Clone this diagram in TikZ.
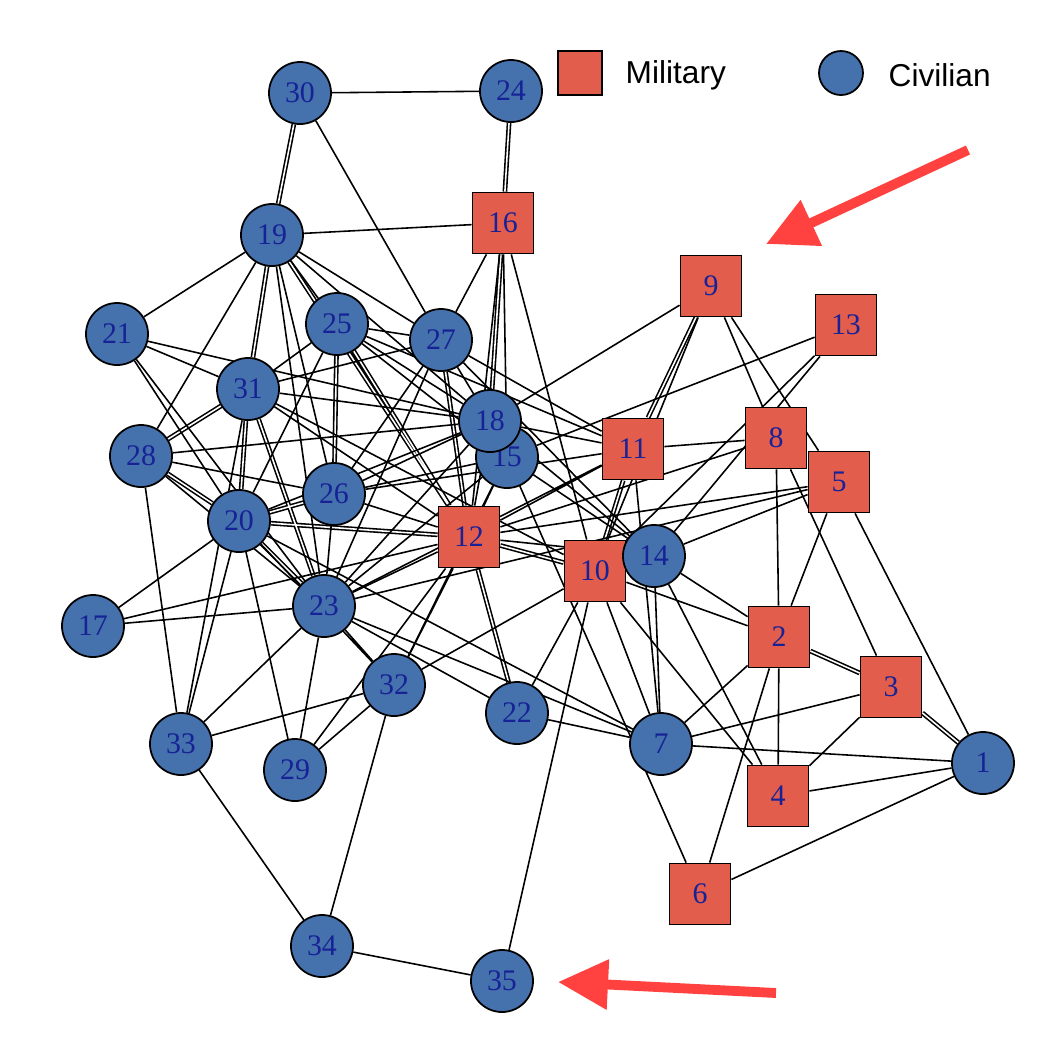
\documentclass[tikz,border=0pt]{standalone}
\usepackage{fontspec}
\setmainfont{Liberation Serif}
\newfontfamily\legfont{Liberation Sans}
\usetikzlibrary{arrows.meta,backgrounds}

\definecolor{rossomil}{RGB}{227,93,77}
\definecolor{bluciv}{RGB}{69,113,172}
\definecolor{blutesto}{RGB}{22,34,150}
\definecolor{rossofreccia}{RGB}{255,66,64}

\tikzset{
  mil/.style={rectangle, draw, line width=0.5pt, fill=rossomil, minimum size=6.1mm,
    inner sep=0pt, text=blutesto, font=\fontsize{8.5}{10}\selectfont},
  civ/.style={circle, draw, line width=0.5pt, fill=bluciv, minimum size=6.2mm,
    inner sep=0pt, text=blutesto, font=\fontsize{8.5}{10}\selectfont},
  arco/.style={line width=0.45pt},
  doppio/.style={line width=0.45pt, double, double distance=0.45pt},
  freccia/.style={draw=rossofreccia, line width=2.8pt, -{Triangle[length=5mm,width=4.8mm]}},
}

\begin{document}
\begin{tikzpicture}[x=0.01cm, y=-0.01cm]
    \useasboundingbox (0,0) rectangle (1050,1044);

    % nodi
    \node[civ] (n1) at (983,763) {1};
    \node[mil] (n2) at (779,637) {2};
    \node[mil] (n3) at (891,687) {3};
    \node[mil] (n4) at (778,796) {4};
    \node[mil] (n5) at (839,482) {5};
    \node[mil] (n6) at (700,894) {6};
    \node[civ] (n7) at (661,744) {7};
    \node[mil] (n8) at (776,438) {8};
    \node[mil] (n9) at (711,286) {9};
    \node[mil] (n10) at (595,571) {10};
    \node[mil] (n11) at (633,449) {11};
    \node[mil] (n12) at (469,537) {12};
    \node[mil] (n13) at (846,325) {13};
    \node[civ] (n14) at (654,556) {14};
    \node[civ] (n15) at (507,457) {15};
    \node[mil] (n16) at (503,223) {16};
    \node[civ] (n17) at (93,626) {17};
    \node[civ] (n18) at (490,421) {18};
    \node[civ] (n19) at (272,235) {19};
    \node[civ] (n20) at (239,521) {20};
    \node[civ] (n21) at (117,334) {21};
    \node[civ] (n22) at (517,713) {22};
    \node[civ] (n23) at (324,606) {23};
    \node[civ] (n24) at (511,91) {24};
    \node[civ] (n25) at (337,324) {25};
    \node[civ] (n26) at (334,494) {26};
    \node[civ] (n27) at (441,340) {27};
    \node[civ] (n28) at (141,456) {28};
    \node[civ] (n29) at (295,770) {29};
    \node[civ] (n30) at (300,93) {30};
    \node[civ] (n31) at (248,389) {31};
    \node[civ] (n32) at (394,685) {32};
    \node[civ] (n33) at (181,744) {33};
    \node[civ] (n34) at (322,946) {34};
    \node[civ] (n35) at (502,981) {35};

    \begin{pgfonlayer}{background}
    % legami multipli
    \draw[doppio] (n30) -- (n19) (n24) -- (n16) (n16) -- (n18) (n19) -- (n31)
        (n19) -- (n12) (n28) -- (n31) (n28) -- (n20) (n31) -- (n20)
        (n31) -- (n23) (n25) -- (n26) (n25) -- (n12) (n27) -- (n12)
        (n9) -- (n11) (n10) -- (n11) (n12) -- (n10) (n2) -- (n3)
        (n3) -- (n1) (n20) -- (n26) (n20) -- (n12) (n20) -- (n23)
        (n12) -- (n22);

    % legami in alto
    \draw[arco] (n30) -- (n24) (n30) -- (n27) (n19) -- (n16) (n16) -- (n27)
        (n16) -- (n12) (n16) -- (n15) (n16) -- (n10);
    \draw[arco] (n19) -- (n21) (n19) -- (n28) (n19) -- (n26) (n19) -- (n25)
        (n19) -- (n18) (n19) -- (n27) (n19) -- (n23);
    \draw[arco] (n21) -- (n18) (n21) -- (n31) (n21) -- (n20) (n21) -- (n23);
    \draw[arco] (n28) -- (n18) (n28) -- (n26) (n28) -- (n23) (n28) -- (n33);
    \draw[arco] (n31) -- (n25) (n31) -- (n27) (n31) -- (n18) (n31) -- (n12)
        (n31) -- (n10) (n31) -- (n33);
    \draw[arco] (n25) -- (n20) (n25) -- (n27) (n25) -- (n18) (n25) -- (n11)
        (n25) -- (n15);
    \draw[arco] (n27) -- (n26) (n27) -- (n23) (n27) -- (n18) (n27) -- (n14)
        (n27) -- (n11);

    % legami al centro
    \draw[arco] (n18) -- (n9) (n18) -- (n12) (n18) -- (n11) (n18) -- (n14)
        (n18) -- (n20) (n18) -- (n23) (n18) -- (n26);
    \draw[arco] (n15) -- (n13) (n15) -- (n14) (n15) -- (n12) (n15) -- (n26)
        (n15) -- (n6) (n15) -- (n23) (n15) -- (n32);
    \draw[arco] (n10) -- (n9) (n10) -- (n13) (n10) -- (n2) (n10) -- (n4)
        (n10) -- (n7) (n10) -- (n22) (n10) -- (n35) (n10) -- (n32);
    \draw[arco] (n11) -- (n8) (n11) -- (n12) (n11) -- (n23) (n11) -- (n7)
        (n11) -- (n26);
    \draw[arco] (n12) -- (n23) (n12) -- (n32) (n12) -- (n26) (n12) -- (n14)
        (n12) -- (n17) (n12) -- (n29);

    % legami a destra
    \draw[arco] (n8) -- (n9) (n8) -- (n2) (n8) -- (n3) (n8) -- (n12);
    \draw[arco] (n5) -- (n9) (n5) -- (n12) (n5) -- (n14) (n5) -- (n2)
        (n5) -- (n1) (n5) -- (n23);
    \draw[arco] (n14) -- (n13) (n14) -- (n2) (n14) -- (n4) (n14) -- (n7);
    \draw[arco] (n2) -- (n7) (n2) -- (n6) (n2) -- (n4) (n3) -- (n7)
        (n3) -- (n4) (n1) -- (n7) (n1) -- (n4) (n1) -- (n6);
    \draw[arco] (n7) -- (n22) (n7) -- (n23) (n7) -- (n20);

    % legami in basso
    \draw[arco] (n22) -- (n23) (n35) -- (n34) (n34) -- (n33) (n34) -- (n32);
    \draw[arco] (n33) -- (n20) (n33) -- (n23) (n33) -- (n32);
    \draw[arco] (n29) -- (n20) (n29) -- (n23) (n29) -- (n32);
    \draw[arco] (n17) -- (n20) (n17) -- (n23) (n20) -- (n32) (n26) -- (n23)
        (n23) -- (n32);
    \end{pgfonlayer}

    % legenda
    \node[rectangle, draw, line width=0.5pt, fill=rossomil, minimum size=4.4mm,
        inner sep=0pt] (legmil) at (580,73) {};
    \node[anchor=west, inner sep=0pt, font=\legfont\fontsize{9}{11}\selectfont]
        (legmiltxt) at (625,75) {Military};
    \node[circle, draw, line width=0.5pt, fill=bluciv, minimum size=4.4mm,
        inner sep=0pt] (legciv) at (841,73) {};
    \node[anchor=west, inner sep=0pt, font=\legfont\fontsize{9}{11}\selectfont]
        (legcivtxt) at (888,75) {Civilian};

    % frecce
    \coordinate (fa1) at (968,150);
    \coordinate (fa2) at (766,244);
    \coordinate (fb1) at (776,993);
    \coordinate (fb2) at (558,982);
    \draw[freccia] (fa1) -- (fa2);
    \draw[freccia] (fb1) -- (fb2);
\end{tikzpicture}
\end{document}
